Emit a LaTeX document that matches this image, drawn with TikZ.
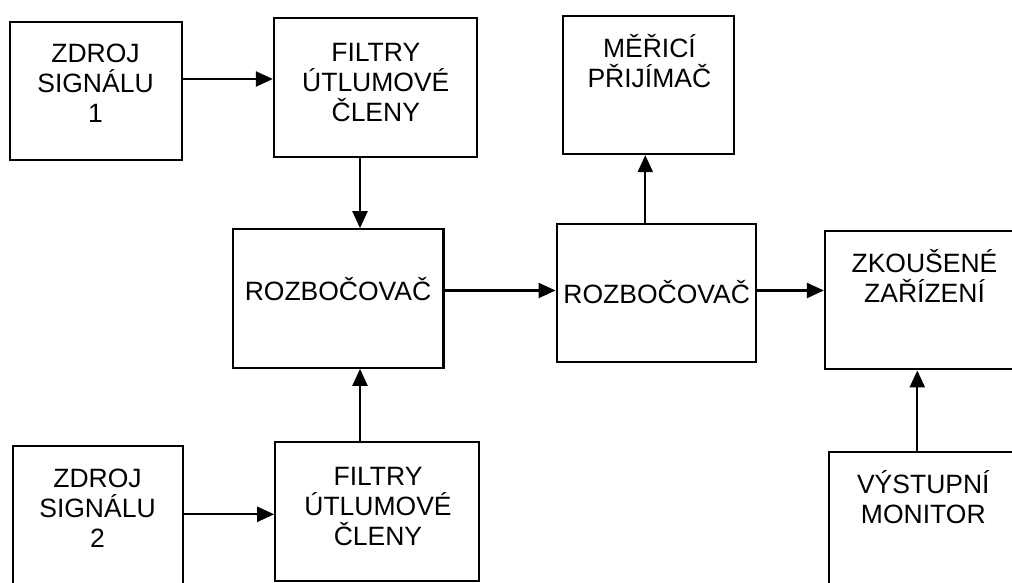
\documentclass[tikz,border=0pt]{standalone}
\usepackage{fontspec}
\setmainfont{Liberation Sans}
\usetikzlibrary{arrows.meta}
\begin{document}
\begin{tikzpicture}[x=1pt,y=-1pt,
  block/.style={draw=black, line width=2.3pt, inner sep=0pt, rectangle},
  caption/.style={font=\fontsize{26.5}{30}\selectfont, align=center, inner sep=0pt},
  feed/.style={line width=2.3pt, -{Triangle[length=17pt,width=15pt]}}]
\useasboundingbox (0,0) rectangle (1012,583);
\fill[white] (0,0) rectangle (1012,583);
\clip (0,0) rectangle (1012,583);

% blocks
\node[block, minimum width=172pt, minimum height=138pt]   (z1) at (96,91) {};
\node[block, minimum width=203pt, minimum height=139pt]   (f1) at (375.5,87.5) {};
\node[block, minimum width=171pt, minimum height=138.3pt] (m)  at (648.8,84.85) {};
\node[block, minimum width=210.6pt, minimum height=138.4pt] (r1) at (338.1,298.5) {};
\node[block, minimum width=199.3pt, minimum height=138pt] (r2) at (656.35,293.3) {};
\node[block, minimum width=199pt, minimum height=138.6pt] (zk) at (924.5,300) {};
\node[block, minimum width=170pt, minimum height=140pt]   (z2) at (98.3,515.7) {};
\node[block, minimum width=203.7pt, minimum height=138.7pt] (f2) at (377.15,511.65) {};
\node[block, minimum width=198.7pt, minimum height=139.3pt] (v)  at (928.6,521.3) {};

% block captions
\node[caption] (z1t) at (95.5,83)   {ZDROJ\\SIGNÁLU\\1};
\node[caption] (f1t) at (375.8,82.5) {FILTRY\\ÚTLUMOVÉ\\ČLENY};
\node[caption] (mt)  at (649.4,61.5) {MĚŘICÍ\\PŘIJÍMAČ};
\node[caption] (r1t) at (338,289.5)  {ROZBOČOVAČ};
\node[caption] (r2t) at (656.7,292.5) {ROZBOČOVAČ};
\node[caption] (zkt) at (924.5,275.5) {ZKOUŠENÉ\\ZAŘÍZENÍ};
\node[caption] (vt)  at (923.3,497.3) {VÝSTUPNÍ\\MONITOR};
\node[caption] (z2t) at (97.5,508.7)  {ZDROJ\\SIGNÁLU\\2};
\node[caption] (f2t) at (378,506.2)   {FILTRY\\ÚTLUMOVÉ\\ČLENY};

% signal paths
\draw[feed] (z1.east |- 0,79) -- (f1.west |- 0,79);
\draw[feed] (f1.south -| 360,0) -- (r1.north -| 360,0);
\draw[feed] (z2.east |- 0,514.3) -- (f2.west |- 0,514.3);
\draw[feed] (f2.north -| 360,0) -- (r1.south -| 360,0);
\draw[feed] (r1.east |- 0,290.5) -- (r2.west |- 0,290.5);
\draw[feed] (r2.north -| 645.3,0) -- (m.south -| 645.3,0);
\draw[feed] (r2.east |- 0,290.5) -- (zk.west |- 0,290.5);
\draw[feed] (v.north -| 917.3,0) -- (zk.south -| 917.3,0);
\end{tikzpicture}
\end{document}
